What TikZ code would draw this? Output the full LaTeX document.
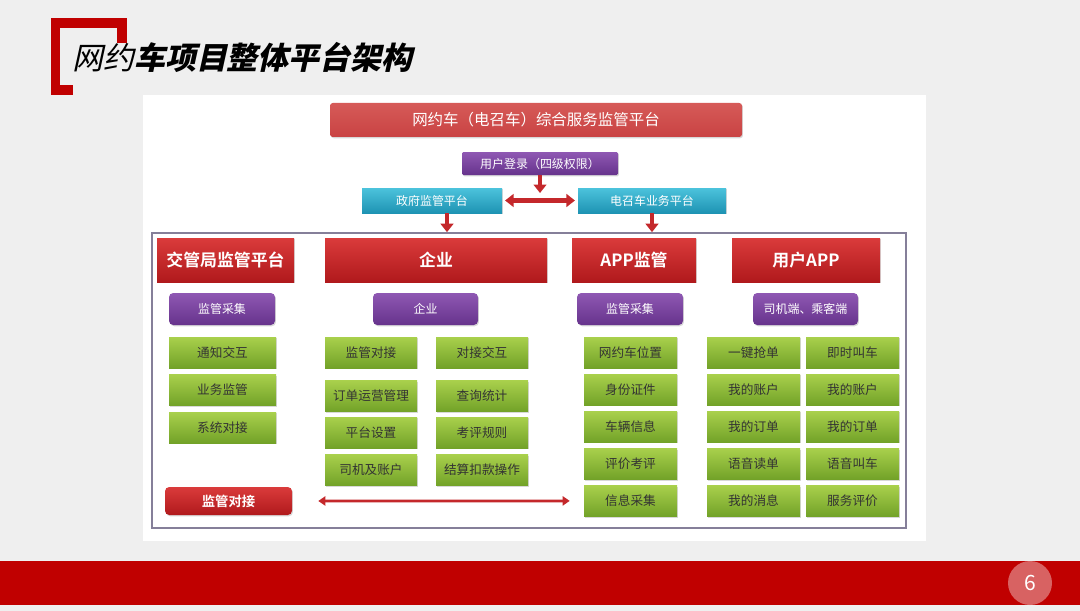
\documentclass[tikz,border=0pt]{standalone}
\usepackage{fontspec}
\usetikzlibrary{arrows.meta,shadows}
\newfontfamily\cjk{Noto Sans CJK SC}
\newfontfamily\cjkbold{Noto Sans CJK SC Bold}
\newfontfamily\titlefont[FakeSlant=0.22]{Noto Sans CJK SC Black}
\newfontfamily\titlelight[FakeSlant=0.22]{Noto Sans CJK SC}
\definecolor{bggray}{HTML}{EFEFEF}
\definecolor{brred}{HTML}{C00000}
\definecolor{redtop}{HTML}{DA3B3B}
\definecolor{redbot}{HTML}{B0191C}
\definecolor{roof}{HTML}{C94343}
\definecolor{rooftop}{HTML}{D65A58}
\definecolor{purtop}{HTML}{8F58B3}
\definecolor{purbot}{HTML}{66338C}
\definecolor{cyantop}{HTML}{4CC3DC}
\definecolor{cyanbot}{HTML}{1E93B3}
\definecolor{grtop}{HTML}{A9D04C}
\definecolor{grbot}{HTML}{72A228}
\definecolor{arrred}{HTML}{C4282B}
\definecolor{framec}{HTML}{857F99}
\definecolor{pgpink}{HTML}{D86262}
\begin{document}
\begin{tikzpicture}[x=0.025cm,y=-0.025cm,font=\cjk,
  wh/.style 2 args={minimum width=#1*0.025cm,minimum height=#2*0.025cm},
  basebox/.style={inner sep=0pt,drop shadow={shadow xshift=0.7pt,shadow yshift=-0.9pt,opacity=0.3}},
  roofbox/.style={basebox,rounded corners=2pt,top color=rooftop,bottom color=roof,text=white,
    font=\cjk\fontsize{11}{11}\selectfont},
  redhead/.style={basebox,top color=redtop,bottom color=redbot,text=white,
    font=\cjkbold\fontsize{12}{12}\selectfont},
  purbox/.style={basebox,rounded corners=3pt,top color=purtop,bottom color=purbot,text=white,
    font=\cjk\fontsize{8.5}{8.5}\selectfont},
  cyanbox/.style={basebox,top color=cyantop,bottom color=cyanbot,text=white,
    font=\cjk\fontsize{8.5}{8.5}\selectfont},
  greenbox/.style={basebox,top color=grtop,bottom color=grbot,text=black!80,
    font=\cjk\fontsize{9}{9}\selectfont},
  vred/.style={draw=arrred,line width=3pt,-{Triangle[width=9pt,length=6pt]}},
  hred/.style={draw=arrred,line width=3pt,{Triangle[width=9pt,length=6pt]}-{Triangle[width=9pt,length=6pt]}},
  thinred/.style={draw=arrred,line width=2pt,{Triangle[width=6.5pt,length=5pt]}-{Triangle[width=6.5pt,length=5pt]}}]
  % page
  \fill[bggray] (0,0) rectangle (1080,611);
  \useasboundingbox (0,0) rectangle (1080,611);
  \fill[brred] (51,18) rectangle (127,28);
  \fill[brred] (51,18) rectangle (60,95);
  \fill[brred] (51,85) rectangle (73,95);
  \fill[brred] (117,18) rectangle (127,43);
  \node[anchor=west,inner sep=0pt,font=\fontsize{22}{22}\selectfont] (title) at (72,57)
    {\titlelight 网约\titlefont 车项目整体平台架构};
  \fill[brred] (0,561) rectangle (1080,605);
  \node[circle,fill=pgpink,wh={44}{44},inner sep=0pt,text=white,font=\cjk\fontsize{15}{15}\selectfont] (pg) at (1030,583) {6};
  % white panel
  \fill[white] (143,95) rectangle (926,541);
  \node[draw=framec,line width=1.2pt,wh={754}{295}] (frame) at (529,380.5) {};
  % top part
  \node[roofbox,wh={412}{34}] (roof) at (536,120) {网约车（电召车）综合服务监管平台};
  \node[purbox,rounded corners=1pt,wh={156}{23}] (login) at (540,163.5) {用户登录（四级权限）};
  \node[cyanbox,wh={140}{25}] (zf) at (432,200.5) {政府监管平台};
  \node[cyanbox,wh={148}{25}] (dz) at (652,200.5) {电召车业务平台};
  \coordinate (mid) at (540,193);
  \draw[vred] (login.south) -- (mid);
  \draw[hred,shorten <=2pt,shorten >=2pt] (zf.east) -- (dz.west);
  \draw[vred] ([xshift=0.375cm]zf.south) -- ([xshift=0.375cm]zf.south |- frame.north);
  \draw[vred] (dz.south) -- (dz.south |- frame.north);
  % column heads
  \node[redhead,wh={137}{44}] (h1) at (225.5,260) {交管局监管平台};
  \node[redhead,wh={222}{44}] (h2) at (436,260) {企业};
  \node[redhead,wh={124}{44}] (h3) at (634,260) {APP监管};
  \node[redhead,wh={148}{44}] (h4) at (806,260) {用户APP};
  \node[purbox,wh={106}{32}] (s1) at (222,309) {监管采集};
  \node[purbox,wh={105}{32}] (s2) at (425.5,309) {企业};
  \node[purbox,wh={106}{32}] (s3) at (630,309) {监管采集};
  \node[purbox,wh={105}{32}] (s4) at (805.5,309) {司机端、乘客端};
  % green items
  \foreach \t [count=\i] in {通知交互,业务监管,系统对接}
    \node[greenbox,wh={107}{31}] (ga\i) at (222.5,315+37.5*\i) {\t};
  \foreach \y/\t [count=\i] in {352.5/监管对接,396/订单运营管理,432.5/平台设置,470/司机及账户}
    \node[greenbox,wh={92}{31}] (gb\i) at (371,\y) {\t};
  \foreach \y/\t [count=\i] in {352.5/对接交互,396/查询统计,432.5/考评规则,470/结算扣款操作}
    \node[greenbox,wh={92}{31}] (gc\i) at (482,\y) {\t};
  \foreach \t [count=\i] in {网约车位置,身份证件,车辆信息,评价考评,信息采集}
    \node[greenbox,wh={93}{31}] (gd\i) at (630.5,315.4+37.1*\i) {\t};
  \foreach \t [count=\i] in {一键抢单,我的账户,我的订单,语音读单,我的消息}
    \node[greenbox,wh={93}{31}] (ge\i) at (753.5,315.4+37.1*\i) {\t};
  \foreach \t [count=\i] in {即时叫车,我的账户,我的订单,语音叫车,服务评价}
    \node[greenbox,wh={93}{31}] (gf\i) at (852.5,315.4+37.1*\i) {\t};
  % bottom link
  \node[redhead,rounded corners=3pt,wh={127}{28},font=\cjkbold\fontsize{9.5}{9.5}\selectfont] (jg) at (228.5,501) {监管对接};
  \draw[thinred,shorten <=0.65cm,shorten >=0.35cm] (jg.east) -- (gd5.west);
\end{tikzpicture}
\end{document}
